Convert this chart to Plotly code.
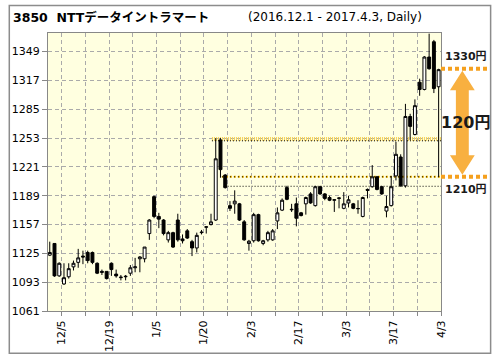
import plotly.graph_objects as go

# ---------------- data ----------------
dates = ["12/1", "12/2", "12/5", "12/6", "12/7", "12/8", "12/9", "12/12", "12/13", "12/14",
         "12/15", "12/16", "12/19", "12/20", "12/21", "12/22", "12/26", "12/27", "12/28", "12/29",
         "12/30", "1/4", "1/5", "1/6", "1/10", "1/11", "1/12", "1/13", "1/16", "1/17",
         "1/18", "1/19", "1/20", "1/23", "1/24", "1/25", "1/26", "1/27", "1/30", "1/31",
         "2/1", "2/2", "2/3", "2/6", "2/7", "2/8", "2/9", "2/10", "2/13", "2/14",
         "2/15", "2/16", "2/17", "2/20", "2/21", "2/22", "2/23", "2/24", "2/27", "2/28",
         "3/1", "3/2", "3/3", "3/6", "3/7", "3/8", "3/9", "3/10", "3/13", "3/14",
         "3/15", "3/16", "3/17", "3/21", "3/22", "3/23", "3/24", "3/27", "3/28", "3/29",
         "3/30", "3/31", "4/3"]
opens = [1123, 1136, 1100, 1091, 1099, 1110, 1115, 1122, 1126, 1126,
         1114, 1105, 1105, 1114, 1102, 1098, 1099, 1103, 1109, 1119,
         1119, 1147, 1188, 1166, 1162, 1140, 1148, 1162, 1141, 1150,
         1138, 1131, 1148, 1154, 1157, 1162, 1251, 1212, 1178, 1180,
         1180, 1160, 1136, 1139, 1168, 1136, 1140, 1140, 1161, 1173,
         1198, 1174, 1180, 1170, 1180, 1191, 1178, 1199, 1191, 1187,
         1184, 1186, 1175, 1181, 1180, 1174.5, 1166, 1196, 1199, 1210,
         1199, 1172, 1178, 1211, 1232, 1200, 1277, 1257, 1315, 1307,
         1343, 1360, 1310]
highs = [1138, 1136, 1115, 1114, 1114, 1117, 1130, 1128, 1128, 1127,
         1115, 1107, 1105, 1115, 1107, 1101, 1101, 1112, 1120, 1122,
         1132, 1163, 1189, 1170, 1163, 1150, 1149, 1169, 1146, 1152,
         1140, 1148, 1151, 1155, 1169, 1253, 1253, 1213, 1183, 1195,
         1181, 1162, 1140, 1170, 1169, 1140, 1150, 1152, 1176, 1186,
         1200, 1180, 1187, 1171, 1188, 1193, 1200, 1200, 1192, 1189,
         1185, 1187, 1193, 1189, 1181, 1184, 1188, 1197, 1223, 1211,
         1200, 1189, 1211, 1249, 1235, 1291, 1280, 1296, 1319, 1344,
         1369, 1362, 1330]
lows = [1122, 1099, 1099, 1090, 1097, 1106, 1109, 1113, 1114, 1113,
        1102, 1101, 1096, 1100, 1098, 1095, 1095, 1100, 1104, 1104,
        1115, 1140, 1164, 1153, 1145, 1137, 1131, 1138, 1136, 1141,
        1122, 1126, 1146, 1147, 1156, 1161, 1209, 1197, 1172, 1169,
        1161, 1139, 1128, 1137, 1138, 1134, 1138, 1139, 1152, 1172,
        1184, 1171, 1155, 1166, 1168, 1180, 1177, 1190, 1184, 1183,
        1171, 1175, 1174, 1176, 1174, 1169, 1165, 1186, 1198, 1195,
        1190, 1165, 1177, 1206, 1199, 1198, 1251, 1256, 1300, 1306,
        1329, 1303, 1210]
closes = [1126, 1100, 1114, 1098, 1108, 1114, 1120, 1121, 1117, 1115,
          1103, 1104, 1097, 1107, 1100, 1098.5, 1099.5, 1109, 1110, 1121,
          1132, 1162, 1166, 1163, 1147, 1148, 1132, 1140, 1139, 1142,
          1131, 1145, 1148.5, 1154.5, 1160, 1230, 1218, 1198, 1175, 1183,
          1162, 1140, 1138.5, 1168, 1139, 1139, 1148, 1150, 1170, 1184,
          1185, 1173.5, 1164, 1167, 1187, 1181, 1199, 1191, 1186, 1184,
          1184.5, 1186.5, 1180, 1184.5, 1175, 1174.8, 1187, 1195, 1210, 1196,
          1191, 1177, 1199, 1235, 1200, 1277, 1266, 1289, 1307, 1343,
          1330, 1308, 1329]
tick_labels = ["12/5", "12/19", "1/5", "1/20", "2/3", "2/17", "3/3", "3/17", "4/3"]
y_ticks = [1061, 1093, 1125, 1157, 1189, 1221, 1253, 1285, 1317, 1349]

# horizontal reference lines inside the plot
band_level = 1252
band_start = "1/25"
line_1210_start = "1/26"
low_level = 1199.5
low_start = "1/27"
# right-hand range marker
range_top = 1330
range_bottom = 1210

# ---------------- geometry ----------------
W, H = 496, 364
L, R, T, B = 45, 55, 33, 48
PW, PH = W - L - R, H - T - B
Y0, Y1 = 1061, 1369.7
X0, X1 = -0.37, 82.5

def px2x(px):
    return (px - L) / PW

def py2y(py):
    return (H - B - py) / PH

def v2y(v):
    return (v - Y0) / (Y1 - Y0)

xs = list(range(len(dates)))
idx = {d: i for i, d in enumerate(dates)}

FONT = "DejaVu Sans, Noto Sans CJK JP, sans-serif"

fig = go.Figure(go.Candlestick(
    x=xs, open=opens, high=highs, low=lows, close=closes,
    increasing=dict(fillcolor="white", line=dict(color="black", width=1)),
    decreasing=dict(fillcolor="black", line=dict(color="black", width=1)),
    whiskerwidth=0, hoverinfo="skip",
))

grid = dict(showgrid=True, gridcolor="#aaaaaa", gridwidth=1, griddash="4px,3px")

fig.update_layout(
    width=W, height=H,
    margin=dict(l=L, r=R, t=T, b=B, pad=0),
    paper_bgcolor="white", plot_bgcolor="#FFFFE0",
    showlegend=False, boxgap=0.12,
    font=dict(family=FONT, size=11, color="black"),
    xaxis=dict(
        range=[X0, X1], rangeslider=dict(visible=False),
        tickmode="array",
        tickvals=[idx[d] + 0.5 for d in tick_labels], ticktext=tick_labels,
        tickangle=-90, ticks="outside", ticklen=4, tickcolor="#888",
        tickfont=dict(size=11, family=FONT),
        showline=True, linecolor="#888", mirror=True, zeroline=False,
        minor=dict(tick0=2.5, dtick=5, ticks="outside", ticklen=4, tickcolor="#888",
                   showgrid=True, gridcolor="#aaaaaa", griddash="4px,3px"),
        **grid,
    ),
    yaxis=dict(
        range=[Y0, Y1], tickmode="array", tickvals=y_ticks,
        ticks="outside", ticklen=5, tickcolor="#888",
        tickfont=dict(size=11, family=FONT),
        showline=True, linecolor="#888", mirror=True, zeroline=False,
        **grid,
    ),
)

shapes = []
# pale yellow dotted band near 1252
xb = idx[band_start] - 0.8
shapes.append(dict(type="line", xref="x", yref="y", x0=xb, x1=X1, y0=band_level, y1=band_level,
                   line=dict(color="#F5D35A", width=4, dash="1px,1px"), layer="between"))
shapes.append(dict(type="line", xref="x", yref="y", x0=xb, x1=X1, y0=band_level - 2, y1=band_level - 2,
                   line=dict(color="black", width=1, dash="1px,2px"), layer="between"))
# 1210 line
x2 = idx[line_1210_start] + 0.3
shapes.append(dict(type="line", xref="x", yref="y", x0=x2, x1=X1, y0=range_bottom, y1=range_bottom,
                   line=dict(color="#F0B400", width=2, dash="2px,2px"), layer="between"))
shapes.append(dict(type="line", xref="x", yref="y", x0=x2, x1=X1, y0=range_bottom, y1=range_bottom,
                   line=dict(color="black", width=1, dash="1px,3px"), layer="between"))
# low line
x3 = idx[low_start] + 0.5
shapes.append(dict(type="line", xref="x", yref="y", x0=x3, x1=X1, y0=low_level, y1=low_level,
                   line=dict(color="black", width=1, dash="1px,2px"), layer="between"))

# right-hand orange dotted markers
ORANGE = "#F5A01E"
for lv in (range_top, range_bottom):
    shapes.append(dict(type="line", xref="paper", yref="paper", x0=px2x(441), x1=px2x(490),
                       y0=v2y(lv), y1=v2y(lv), line=dict(color=ORANGE, width=4, dash="4px,3px")))

# double arrow
cx = px2x(462.5)
hw = 12.5 / PW
sw = 6.5 / PW
ytop = v2y(range_top) - 2 / PH
ybot = v2y(range_bottom) + 2 / PH
hl = 20 / PH
path = (f"M {cx},{ytop} L {cx+hw},{ytop-hl} L {cx+sw},{ytop-hl} L {cx+sw},{ybot+hl} "
        f"L {cx+hw},{ybot+hl} L {cx},{ybot} L {cx-hw},{ybot+hl} L {cx-sw},{ybot+hl} "
        f"L {cx-sw},{ytop-hl} L {cx-hw},{ytop-hl} Z")
shapes.append(dict(type="path", xref="paper", yref="paper", path=path,
                   fillcolor="#F8B040", line=dict(width=0)))

# outer frame
shapes.append(dict(type="rect", xref="paper", yref="paper",
                   x0=px2x(6), x1=px2x(491), y0=py2y(359), y1=py2y(5),
                   line=dict(color="#8c8c8c", width=1.5)))
fig.update_layout(shapes=shapes)

ann = []
ann.append(dict(text="<b>3850  NTTデータイントラマート</b>", xref="paper", yref="paper",
                x=px2x(8), y=py2y(17), xanchor="left", yanchor="middle", showarrow=False,
                font=dict(size=12.5, family=FONT, color="black")))
ann.append(dict(text="(2016.12.1 - 2017.4.3, Daily)", xref="paper", yref="paper",
                x=px2x(245), y=py2y(17), xanchor="left", yanchor="middle", showarrow=False,
                font=dict(size=12, family=FONT, color="black")))
ann.append(dict(text=f"<b>{range_top}円</b>", xref="paper", yref="paper",
                x=px2x(466), y=v2y(range_top) + 12 / PH, xanchor="center", yanchor="middle",
                showarrow=False, font=dict(size=11, family=FONT, color="#1a1a1a")))
ann.append(dict(text=f"<b>{range_bottom}円</b>", xref="paper", yref="paper",
                x=px2x(466), y=v2y(range_bottom) - 13 / PH, xanchor="center", yanchor="middle",
                showarrow=False, font=dict(size=11, family=FONT, color="#1a1a1a")))
ann.append(dict(text=f"<b>{range_top - range_bottom}円</b>", xref="paper", yref="paper",
                x=px2x(466), y=v2y((range_top + range_bottom) / 2), xanchor="center", yanchor="middle",
                showarrow=False, font=dict(size=16, family=FONT, color="#1a1a1a")))
fig.update_layout(annotations=ann)

fig.write_html("out.html", config={"displayModeBar": False, "staticPlot": True},
               post_script="document.body.style.margin='0';")
